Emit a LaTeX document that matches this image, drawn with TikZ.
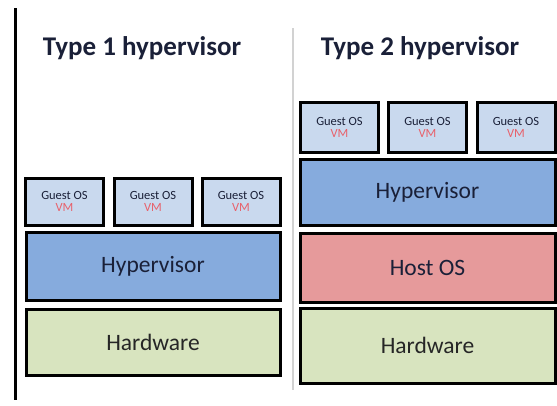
\documentclass[tikz,border=0pt]{standalone}
\usepackage{fontspec}
\setmainfont{Carlito}
\definecolor{vmfill}{HTML}{C9D9EE}
\definecolor{hypfill}{HTML}{86ABDD}
\definecolor{hostfill}{HTML}{E69A9B}
\definecolor{hwfill}{HTML}{D8E4BF}
\definecolor{txt}{HTML}{1A2038}
\definecolor{vmred}{HTML}{E8606A}
\definecolor{sepgray}{HTML}{D2D2D2}
\tikzset{
  x=1pt, y=-1pt,
  boxbase/.style={draw=black, line width=3pt, rectangle, inner sep=0pt, text=txt},
  vmbox/.style={boxbase, fill=vmfill, minimum width=78pt, minimum height=47pt, align=center,
    font=\fontsize{12.5}{13}\selectfont},
  layer/.style={boxbase, minimum width=254pt, font=\fontsize{23.5}{26}\selectfont},
  titletext/.style={font=\bfseries\fontsize{27}{30}\selectfont, text=txt, inner sep=0pt},
}
\newcommand{\vmlabel}{Guest OS\\[-1pt]\textcolor{vmred}{VM}}
\begin{document}
\begin{tikzpicture}
\useasboundingbox[fill=white] (0,0) rectangle (557,405);
% frame lines
\coordinate (lt) at (15,8);
\coordinate (lb) at (15,400);
\draw[line width=3pt, black] (lt) -- (lb);
\coordinate (st) at (293,28);
\coordinate (sb) at (293,390);
\draw[line width=1.5pt, sepgray] (st) -- (sb);
% titles
\node[titletext] (t1) at (142,48) {Type 1 hypervisor};
\node[titletext] (t2) at (420,48) {Type 2 hypervisor};
% type 1
\node[vmbox] (l1) at (64.5,201.5) {\vmlabel};
\node[vmbox] (l2) at (153,201.5) {\vmlabel};
\node[vmbox] (l3) at (241,201.5) {\vmlabel};
\node[layer, fill=hypfill, minimum height=68pt] (lh) at (153,266) {Hypervisor};
\node[layer, fill=hwfill, minimum height=66pt, text=black!85] (lw) at (153,342) {Hardware};
% type 2
\node[vmbox, minimum height=50pt] (r1) at (339.5,127) {\vmlabel};
\node[vmbox, minimum height=50pt] (r2) at (427.5,127) {\vmlabel};
\node[vmbox, minimum height=50pt] (r3) at (516,127) {\vmlabel};
\node[layer, fill=hypfill, minimum width=255pt, minimum height=66pt] (rh) at (427.5,192) {Hypervisor};
\node[layer, fill=hostfill, minimum width=255pt, minimum height=69pt] (ro) at (427.5,267.5) {Host OS};
\node[layer, fill=hwfill, minimum width=255pt, minimum height=75pt, text=black!85] (rw) at (427.5,345.5) {Hardware};
\end{tikzpicture}
\end{document}
